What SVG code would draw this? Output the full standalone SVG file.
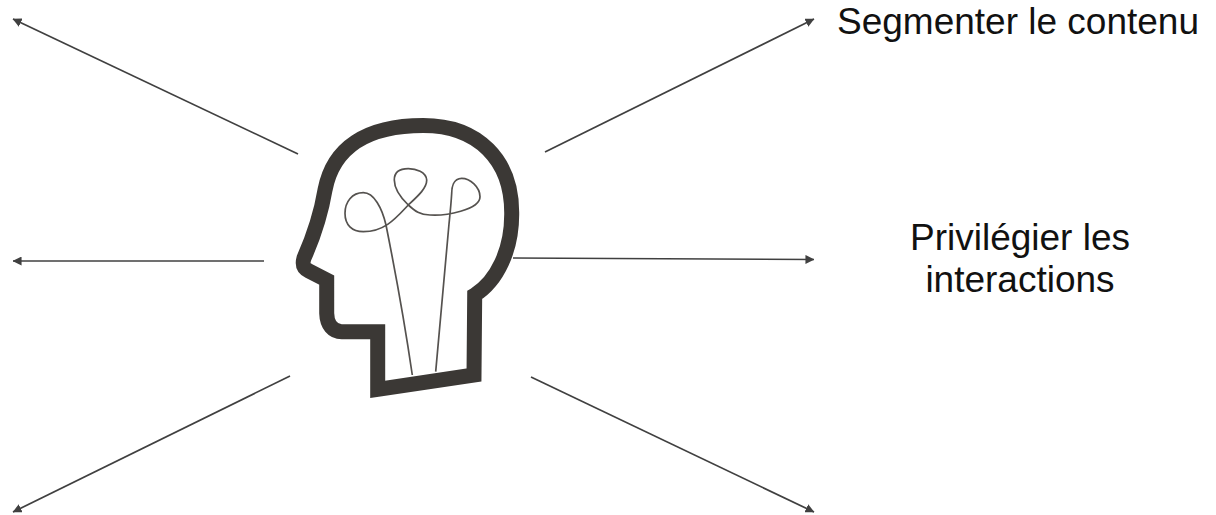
<svg xmlns="http://www.w3.org/2000/svg" width="1216" height="515" viewBox="0 0 1216 515">
<style>
.c{stroke:#404040;stroke-width:1.7;fill:none;marker-end:url(#a)}
.t{font-family:"Liberation Sans",Arial,sans-serif;font-size:37px;fill:#111}
</style>
<defs><marker id="a" viewBox="0 0 10 10" refX="9.5" refY="5" markerWidth="9" markerHeight="9" orient="auto" markerUnits="userSpaceOnUse"><path d="M0 0L10 5L0 10Z" fill="#404040"/></marker></defs>
<rect width="1216" height="515" fill="#fff"/>
<g id="connectors">
<path class="c" d="M298 154L13 19"/>
<path class="c" d="M264 261H13"/>
<path class="c" d="M290 376L13 512"/>
<path class="c" d="M545 152L814 19"/>
<path class="c" d="M513 258L814 259.500"/>
<path class="c" d="M531 377L814 512"/>
</g>
<g id="head">
<path d="M377.700 389.300L474 375L474.700 295C497 281 512 250 511.700 213.300C512 160 478 125.500 423.300 125.500C366 125.500 333 148 325 190C320 220 312 240 304 258C302 265 303 268 309 271L326.700 280V313.300C327 325 333 331.700 341.700 331.700H377.700Z" fill="none" stroke="#3b3835" stroke-width="15" stroke-linejoin="miter"/>
<path d="M412.300 375C405 325 395 270 386 225C382 208 374 192.700 363.300 192.700C352 192.700 345 202 345 213.300C345 225 352 231.700 363.300 231.700C385 231.700 396 218 408.300 205C418 196 427 188 426.700 180C426 172 416 168.700 408.300 168.700C399 168.700 394.300 173 394.300 180C394.300 190 401 198 408.300 205C415 211 420 215 430 215C445 216 480 210 480 196.700C480 187 470 178.300 461.700 178.300C453 178.300 451.700 188 451.700 193.300C451 205 450 214 449 224L435.700 371.700" fill="none" stroke="#55524f" stroke-width="1.700"/>
</g>
<g id="n1"><text class="t" x="837" y="33.500">Segmenter le contenu</text></g>
<g id="n2"><text class="t" text-anchor="middle" x="1020" y="250">Privilégier les</text><text class="t" text-anchor="middle" x="1020" y="292">interactions</text></g>
</svg>
